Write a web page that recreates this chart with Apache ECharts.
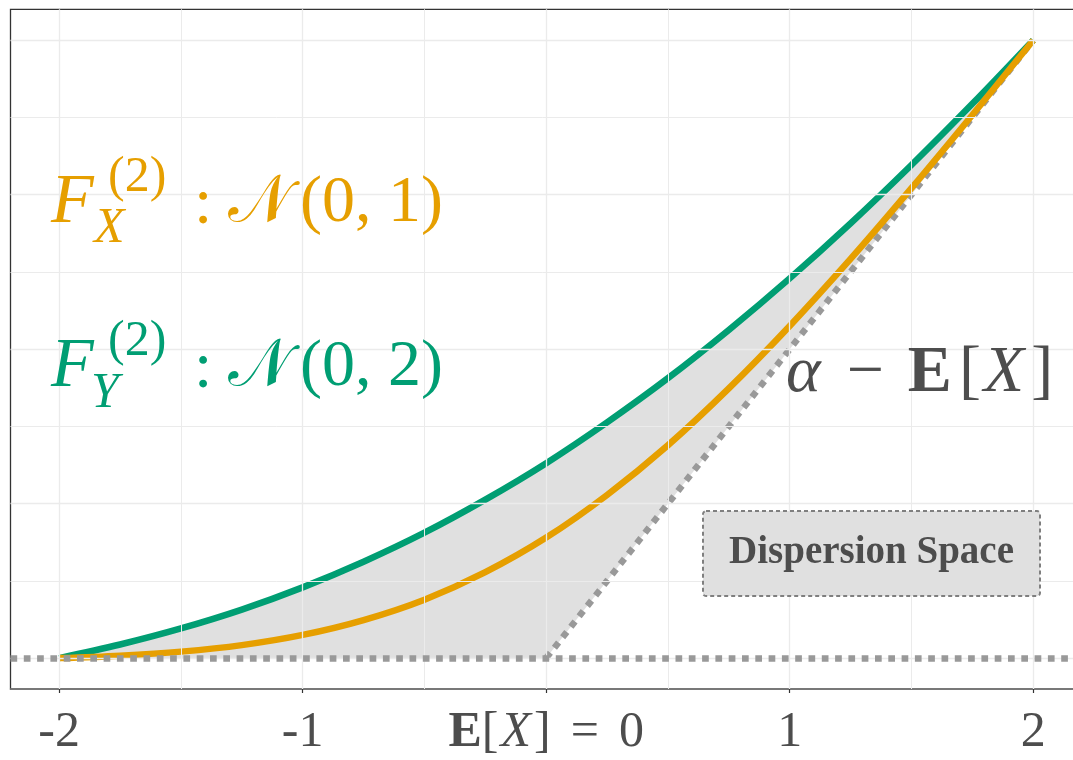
<!DOCTYPE html>
<html><head><meta charset="utf-8">
<script src="https://cdn.jsdelivr.net/npm/echarts@6/dist/echarts.min.js"></script>
<style>html,body{margin:0;padding:0;background:#fff}#c{width:1073px;height:760px}</style>
</head><body><div id="c"></div>
<script>
// ---- data ----
const xs = [-2,-1.75,-1.5,-1.25,-1,-0.75,-0.5,-0.25,0,0.25,0.5,0.75,1,1.25,1.5,1.75,2];
// F_X^(2): N(0,1)  (orange)
const fX = [0,0.008,0.021,0.042,0.075,0.123,0.189,0.278,0.390,0.528,0.689,0.873,1.075,1.292,1.521,1.758,2.0];
// F_Y^(2): N(0,2)  (green)
const fY = [0,0.044,0.096,0.157,0.229,0.312,0.406,0.513,0.631,0.763,0.906,1.062,1.229,1.407,1.596,1.794,2.0];
// alpha - E[X] lower bound
const floorLine = [0,0,0,0,0,0,0,0,0,0.25,0.5,0.75,1,1.25,1.5,1.75,2];
const xTicks = [-2,-1,0,1,2];
const xMinor = [-1.5,-0.5,0.5,1.5];
const yMajor = [0,0.5,1,1.5,2];
const yMinor = [0.25,0.75,1.25,1.75];
const tickText = {'-2':'-2','-1':'-1','0':'{b|E}{t|[}{i|X}{t|]}{eq|=}{t|0}','1':'1','2':'2'};

const FONT = "'Liberation Serif','DejaVu Serif',serif";
const ORANGE = '#E69F00', GREEN = '#009E73', TXT = '#4d4d4d';

const chart = echarts.init(document.getElementById('c'), null, {renderer:'canvas'});

function gl(list, key, width){
  return list.map(v => ({[key]: v, lineStyle:{color:'#ebebeb', width: width, type:'solid'}}));
}
function T(x, y, text, size, color, extra){
  return Object.assign({type:'text', x:x, y:y, z:100, silent:true,
    style: Object.assign({text:text, fontSize:size, fontFamily:FONT, fill:color,
      align:'left', verticalAlign:'middle'}, extra||{})});
}
const NCAL = '\u{1D4A9}';
const LF = 50;

const option = {
  animation:false,
  backgroundColor:'#fff',
  grid:{left:10.5, top:9.3, width:1071.4, height:679.7, show:true, containLabel:false,
        outerBoundsMode:'none',
        borderColor:'#333', borderWidth:1.3, backgroundColor:'#fff'},
  xAxis:{type:'value', min:-2.2, max:2.2,
    splitLine:{show:false},
    axisLine:{show:true, onZero:false, lineStyle:{color:'#7f7f7f', width:1.5}},
    axisTick:{show:true, customValues:xTicks, length:4, lineStyle:{color:'#333', width:1.2}},
    axisLabel:{show:true, customValues:xTicks, margin:19, fontFamily:FONT, fontSize:LF, color:TXT,
      formatter: v => tickText[String(v)] || '',
      rich:{
        b:{fontFamily:FONT, fontSize:LF, fontWeight:'bold', color:TXT},
        i:{fontFamily:FONT, fontSize:LF, fontStyle:'italic', color:TXT, padding:[0,3,0,2]},
        t:{fontFamily:FONT, fontSize:LF, color:TXT},
        eq:{fontFamily:FONT, fontSize:LF, color:TXT, padding:[0,20,0,20]}
      }}
  },
  yAxis:{type:'value', min:-0.1, max:2.1, show:true,
    axisLine:{show:false}, axisTick:{show:false}, axisLabel:{show:false}, splitLine:{show:false}},
  graphic:[
    // F_X^(2) : N(0,1)
    T(51, 204, 'F', 70, ORANGE, {fontStyle:'italic'}),
    T(108, 178, '(2)', 50, ORANGE),
    T(94, 229, 'X', 50, ORANGE, {fontStyle:'italic'}),
    T(194, 206, ':', 66, ORANGE),
    T(228, 204, NCAL, 66, ORANGE),
    T(300, 204, '(0, 1)', 66, ORANGE),
    // F_Y^(2) : N(0,2)
    T(51, 368, 'F', 70, GREEN, {fontStyle:'italic'}),
    T(108, 342, '(2)', 50, GREEN),
    T(91, 394, 'Y', 50, GREEN, {fontStyle:'italic'}),
    T(194, 370, ':', 66, GREEN),
    T(228, 368, NCAL, 66, GREEN),
    T(300, 368, '(0, 2)', 66, GREEN),
    // alpha - E[X]
    {type:'text', x:786, y:374, z:100, silent:true, style:{
      text:'{a|\u03B1}{m|\u2212}{b|E}{p|[}{i|X}{q|]}', fontFamily:FONT, fontSize:66, fill:TXT,
      align:'left', verticalAlign:'middle',
      rich:{
        a:{fontFamily:FONT, fontSize:66, fontStyle:'italic', fill:TXT},
        m:{fontFamily:FONT, fontSize:66, fill:TXT, padding:[0,24,0,26]},
        b:{fontFamily:FONT, fontSize:66, fontWeight:'bold', fill:TXT},
        p:{fontFamily:FONT, fontSize:66, fill:TXT, padding:[0,3,0,7]},
        i:{fontFamily:FONT, fontSize:66, fontStyle:'italic', fill:TXT},
        q:{fontFamily:FONT, fontSize:66, fill:TXT, padding:[0,0,0,7]}
      }}},
    // Dispersion Space box
    {type:'rect', z:90, silent:true, shape:{x:703, y:511, width:337, height:85, r:3},
      style:{fill:'#e0e0e0', stroke:'#7f7f7f', lineWidth:2, lineDash:[4,3]}},
    T(871.5, 553, 'Dispersion Space', 39, TXT, {fontWeight:'bold', align:'center'})
  ],
  series:[
    { // grid lines
      type:'line', data:[], z:0, silent:true,
      markLine:{silent:true, symbol:['none','none'], label:{show:false}, animation:false,
        data: [].concat(gl(yMajor,'yAxis',1.3), gl(yMinor,'yAxis',1.0), gl(xTicks,'xAxis',1.3), gl(xMinor,'xAxis',1.0))}
    },
    { // shaded dispersion space
      type:'custom', z:1, silent:true, data:[[0,0]],
      renderItem:function(params, api){
        const top = xs.map((x,i)=>api.coord([x, fY[i]]));
        const bot = xs.map((x,i)=>api.coord([x, floorLine[i]])).reverse();
        return {type:'polygon', shape:{points: top.concat(bot)}, style:{fill:'rgba(127,127,127,0.24)'}};
      }
    },
    { // horizontal dotted baseline
      type:'line', data:[], z:2, silent:true,
      markLine:{silent:true, symbol:['none','none'], label:{show:false}, animation:false,
        data:[{yAxis:0, lineStyle:{color:'#999', width:6.5, type:[6.7,6.6], cap:'butt'}}]}
    },
    { // diagonal dotted
      type:'line', z:2, silent:true, symbol:'none',
      data: xs.map((x,i)=>[x, floorLine[i]]).filter(p=>p[0]>=0),
      lineStyle:{color:'#999', width:6.5, type:[6.7,6.6], cap:'butt'}
    },
    {
      type:'line', z:3, silent:true, symbol:'none', smooth:0.35,
      data: xs.map((x,i)=>[x, fY[i]]),
      lineStyle:{color:GREEN, width:6.5}
    },
    {
      type:'line', z:4, silent:true, symbol:'none', smooth:0.35,
      data: xs.map((x,i)=>[x, fX[i]]),
      lineStyle:{color:ORANGE, width:6.5}
    }
  ]
};
chart.setOption(option);
</script>
</body></html>
